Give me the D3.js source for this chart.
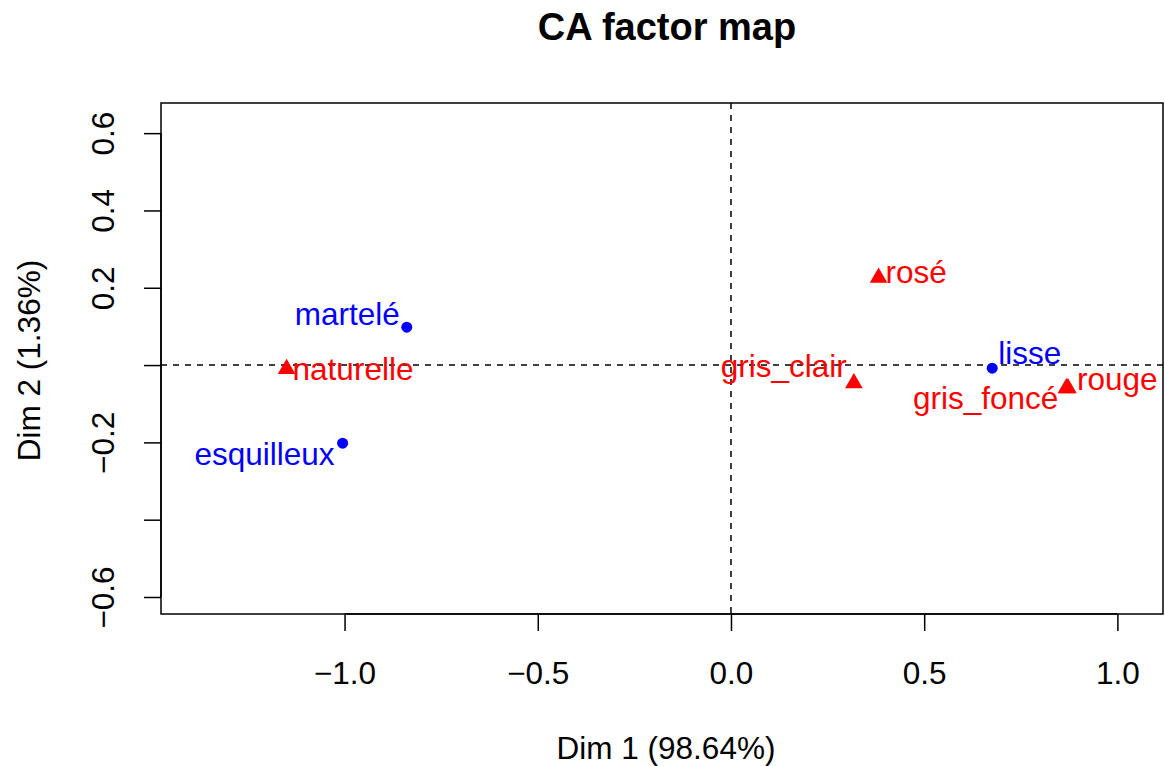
<!DOCTYPE html>
<html>
<head>
<meta charset="utf-8">
<script src="https://cdn.jsdelivr.net/npm/d3@7"></script>
<style>
  body { margin: 0; background: #fff; }
  text { font-family: "Liberation Sans", Arial, Helvetica, sans-serif; }
</style>
</head>
<body>
<svg id="chart"></svg>
<script>
// rows (blue dots)
var rowNames = ["lisse", "martelé", "esquilleux"];
var rowDim1 = [0.676, -0.839, -1.005];
var rowDim2 = [-0.008, 0.098, -0.202];

// columns (red triangles)
var colNames = ["naturelle", "rosé", "gris_clair", "gris_foncé", "rouge"];
var colDim1 = [-1.150, 0.382, 0.318, 0.868, 0.872];
var colDim2 = [-0.010, 0.226, -0.047, -0.060, -0.060];

var xTicks = [-1.0, -0.5, 0.0, 0.5, 1.0];
var xTickLabels = ["\u22121.0", "\u22120.5", "0.0", "0.5", "1.0"];
var yTicks = [0.6, 0.4, 0.2, 0.0, -0.2, -0.4, -0.6];
var yTickLabels = ["0.6", "0.4", "0.2", "", "\u22120.2", "", "\u22120.6"];

// label offsets in px (text placement, like autoLab)
var labelPos = {
    "lisse": [6, -4],
    "martelé": [-7, -2],
    "esquilleux": [-8, 22],
    "naturelle": [6, 11],
    "rosé": [7, 5],
    "gris_clair": [-7, -6],
    "gris_foncé": [-8, 21],
    "rouge": [9, 2]
};

var width = 1165;
var height = 766;
var margin = {top: 103, right: 2, bottom: 152, left: 161};
var plotRight = width - margin.right;
var plotBottom = height - margin.bottom;
var fontSize = 31.5;

var svg = d3.select("#chart")
    .attr("width", width)
    .attr("height", height);

var xScale = d3.scaleLinear()
    .domain([-1.475, 1.118])
    .range([margin.left, plotRight]);

var yScale = d3.scaleLinear()
    .domain([-0.644, 0.678])
    .range([plotBottom, margin.top]);

// title
svg.append("text")
    .attr("x", (margin.left + plotRight) / 2 + 5)
    .attr("y", 40)
    .attr("text-anchor", "middle")
    .style("font-weight", "bold")
    .style("font-size", "38px")
    .text("CA factor map");

// axis titles
svg.append("text")
    .attr("x", (margin.left + plotRight) / 2 + 4)
    .attr("y", 759)
    .attr("text-anchor", "middle")
    .style("font-size", fontSize + "px")
    .text("Dim 1 (98.64%)");

svg.append("text")
    .attr("transform", "translate(40," + ((margin.top + plotBottom) / 2 + 2) + ") rotate(-90)")
    .attr("text-anchor", "middle")
    .style("font-size", fontSize + "px")
    .text("Dim 2 (1.36%)");

// x-axis
var xAxis = svg.append("g")
    .attr("transform", "translate(0," + plotBottom + ")")
    .call(d3.axisBottom(xScale)
        .tickValues(xTicks)
        .tickFormat(function(d, i) { return xTickLabels[i]; })
        .tickSize(17));

xAxis.select(".domain").remove();
xAxis.selectAll(".tick line").attr("stroke", "#000").attr("stroke-width", 1.5);
xAxis.selectAll(".tick text")
    .attr("y", 70)
    .attr("dy", 0)
    .style("font-size", fontSize + "px")
    .attr("fill", "#000");

// y-axis
var yAxis = svg.append("g")
    .attr("transform", "translate(" + margin.left + ",0)")
    .call(d3.axisLeft(yScale)
        .tickValues(yTicks)
        .tickFormat(function(d, i) { return yTickLabels[i]; })
        .tickSize(17));

yAxis.select(".domain").remove();
yAxis.selectAll(".tick line").attr("stroke", "#000").attr("stroke-width", 1.5);
yAxis.selectAll(".tick text")
    .attr("transform", "rotate(-90)")
    .attr("x", 0)
    .attr("y", -47)
    .attr("dy", 0)
    .attr("text-anchor", "middle")
    .style("font-size", fontSize + "px")
    .attr("fill", "#000");

// axis lines from first to last tick (as in R)
svg.append("line")
    .attr("x1", xScale(xTicks[0])).attr("x2", xScale(xTicks[xTicks.length - 1]))
    .attr("y1", plotBottom).attr("y2", plotBottom)
    .attr("stroke", "#000").attr("stroke-width", 1.5);
svg.append("line")
    .attr("x1", margin.left).attr("x2", margin.left)
    .attr("y1", yScale(yTicks[0])).attr("y2", yScale(yTicks[yTicks.length - 1]))
    .attr("stroke", "#000").attr("stroke-width", 1.5);

// box
svg.append("rect")
    .attr("x", margin.left)
    .attr("y", margin.top)
    .attr("width", plotRight - margin.left)
    .attr("height", plotBottom - margin.top)
    .attr("fill", "none")
    .attr("stroke", "#000")
    .attr("stroke-width", 1.5);

// dashed reference lines
svg.append("line")
    .attr("x1", margin.left).attr("x2", plotRight)
    .attr("y1", yScale(0)).attr("y2", yScale(0))
    .attr("stroke", "#000").attr("stroke-width", 1.5)
    .attr("stroke-dasharray", "6,6");
svg.append("line")
    .attr("x1", xScale(0)).attr("x2", xScale(0))
    .attr("y1", margin.top).attr("y2", plotBottom)
    .attr("stroke", "#000").attr("stroke-width", 1.5)
    .attr("stroke-dasharray", "6,6");

var rows = rowNames.map(function(n, i) {
    return {name: n, x: rowDim1[i], y: rowDim2[i]};
});
var cols = colNames.map(function(n, i) {
    return {name: n, x: colDim1[i], y: colDim2[i]};
});

// rows
svg.append("g").selectAll("circle")
    .data(rows)
    .enter().append("circle")
    .attr("cx", function(d) { return xScale(d.x); })
    .attr("cy", function(d) { return yScale(d.y); })
    .attr("r", 5.5)
    .attr("fill", "#0000FF");

// columns
var tri = d3.symbol().type(d3.symbolTriangle).size(135);
svg.append("g").selectAll("path")
    .data(cols)
    .enter().append("path")
    .attr("d", tri)
    .attr("transform", function(d) {
        return "translate(" + xScale(d.x) + "," + yScale(d.y) + ")";
    })
    .attr("fill", "#FF0000");

function drawLabels(data, color) {
    svg.append("g").selectAll("text")
        .data(data)
        .enter().append("text")
        .attr("x", function(d) { return xScale(d.x) + labelPos[d.name][0]; })
        .attr("y", function(d) { return yScale(d.y) + labelPos[d.name][1]; })
        .attr("text-anchor", function(d) {
            return labelPos[d.name][0] < 0 ? "end" : "start";
        })
        .style("font-size", fontSize + "px")
        .attr("fill", color)
        .text(function(d) { return d.name; });
}

drawLabels(rows, "#0000FF");
drawLabels(cols, "#FF0000");
</script>
</body>
</html>
